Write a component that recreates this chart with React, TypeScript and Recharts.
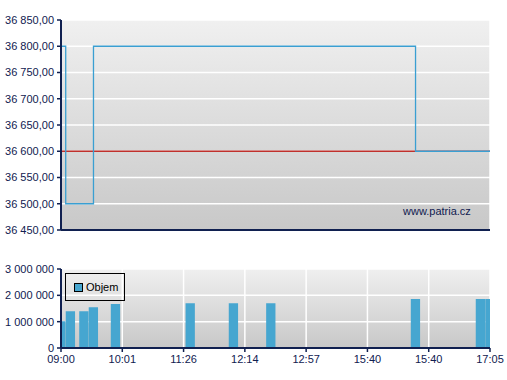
import React from 'react';
import {
  ComposedChart,
  Line,
  Bar,
  XAxis,
  YAxis,
  CartesianGrid,
  Legend,
} from 'recharts';

// x positions are slots on a 0..70 scale, one tick every 10
const tickPos = [0, 10, 20, 30, 40, 50, 60, 70];
const tickLabels = ['09:00', '10:01', '11:26', '12:14', '12:57', '15:40', '15:40', '17:05'];

const priceT = [0, 0.77, 5.3, 57.85, 70];
const priceV = [36800, 36500, 36800, 36600, 36600];

const refT = [0, 70];
const refV = [36600, 36600];

const volT = [0, 1.55, 3.75, 5.3, 8.9, 21.1, 28.15, 34.25, 57.85, 68.45, 70];
const volV = [1020000, 1400000, 1400000, 1550000, 1670000, 1700000, 1700000, 1700000, 1860000, 1860000, 1860000];

const priceTicks = [36450, 36500, 36550, 36600, 36650, 36700, 36750, 36800, 36850];
const volTicks = [0, 1000000, 2000000, 3000000];

const priceData = priceT.map((t, i) => ({ t, p: priceV[i] }));
const refData = refT.map((t, i) => ({ t, p: refV[i] }));
const volData = volT.map((t, i) => ({ t, v: volV[i] }));

const NAVY = '#102050';
const FONT = '"Liberation Sans", Arial, sans-serif';
const NBSP = '\u00a0';
const tickStyle = { fill: NAVY, fontSize: 11, fontFamily: FONT };

const fmtPrice = (n: number) =>
  `${Math.floor(n / 1000)}${NBSP}${String(n % 1000).padStart(3, '0')},00`;

const fmtVol = (n: number) => {
  if (n === 0) return '0';
  return String(n).replace(/\B(?=(\d{3})+(?!\d))/g, NBSP);
};

const fmtTime = (t: number) => {
  const i = tickPos.indexOf(t);
  return i >= 0 ? tickLabels[i] : '';
};

const LegendBox = () => (
  <div
    style={{
      width: 60,
      height: 28,
      border: '1px solid #000',
      boxSizing: 'border-box',
      display: 'flex',
      alignItems: 'center',
      paddingLeft: 8,
      fontFamily: FONT,
      fontSize: 11,
      color: '#000',
    }}
  >
    <span
      style={{
        display: 'inline-block',
        width: 7,
        height: 7,
        background: '#46a6d0',
        border: '1px solid #000',
        marginRight: 3,
      }}
    />
    Objem
  </div>
);

export default function App() {
  return (
    <div
      style={{
        position: 'absolute',
        left: 0,
        top: 0,
        width: 507,
        height: 380,
        background: '#fff',
      }}
    >
      <div style={{ position: 'absolute', left: 0, top: 0 }}>
        <ComposedChart
          width={507}
          height={240}
          data={priceData}
          margin={{ top: 20, right: 17, left: 0, bottom: 0 }}
        >
          <defs>
            <linearGradient id="gTop" x1="0" y1="0" x2="0" y2="1">
              <stop offset="0%" stopColor="#f0f0f0" />
              <stop offset="100%" stopColor="#c8c8c8" />
            </linearGradient>
          </defs>
          <CartesianGrid stroke="#ffffff" strokeWidth={1.5} fill="url(#gTop)" fillOpacity={1} />
          <XAxis
            dataKey="t"
            type="number"
            domain={[0, 70]}
            ticks={tickPos}
            tick={false}
            height={10}
            tickSize={4}
            axisLine={{ stroke: NAVY, strokeWidth: 2 }}
            tickLine={{ stroke: NAVY, strokeWidth: 1.5 }}
          />
          <YAxis
            type="number"
            domain={[36450, 36850]}
            ticks={priceTicks}
            width={61}
            tickSize={4}
            tickMargin={3}
            tickFormatter={fmtPrice}
            tick={tickStyle}
            axisLine={{ stroke: NAVY, strokeWidth: 2 }}
            tickLine={{ stroke: NAVY, strokeWidth: 1.5 }}
          />
          <Line
            data={refData}
            dataKey="p"
            type="linear"
            stroke="#c0302c"
            strokeWidth={1.3}
            dot={false}
            isAnimationActive={false}
          />
          <Line
            dataKey="p"
            type="stepAfter"
            stroke="#3a9fd2"
            strokeWidth={1.3}
            dot={false}
            isAnimationActive={false}
          />
        </ComposedChart>
      </div>

      <div
        style={{
          position: 'absolute',
          left: 403,
          top: 205,
          fontFamily: FONT,
          fontSize: 11,
          color: NAVY,
        }}
      >
        www.patria.cz
      </div>

      <div style={{ position: 'absolute', left: 0, top: 255 }}>
        <ComposedChart
          width={507}
          height={123}
          data={volData}
          barCategoryGap={0}
          barGap={0}
          margin={{ top: 14, right: 17, left: 0, bottom: 0 }}
        >
          <defs>
            <linearGradient id="gBot" x1="0" y1="0" x2="0" y2="1">
              <stop offset="0%" stopColor="#efefef" />
              <stop offset="100%" stopColor="#c8c8c8" />
            </linearGradient>
          </defs>
          <CartesianGrid stroke="#ffffff" strokeWidth={1.5} fill="url(#gBot)" fillOpacity={1} />
          <XAxis
            dataKey="t"
            type="number"
            domain={[0, 70]}
            ticks={tickPos}
            allowDataOverflow
            height={30}
            tickSize={4}
            tickMargin={3}
            tickFormatter={fmtTime}
            tick={tickStyle}
            axisLine={{ stroke: NAVY, strokeWidth: 2 }}
            tickLine={{ stroke: NAVY, strokeWidth: 1.5 }}
          />
          <YAxis
            type="number"
            domain={[0, 3000000]}
            ticks={volTicks}
            width={61}
            tickSize={4}
            tickMargin={3}
            tickFormatter={fmtVol}
            tick={tickStyle}
            axisLine={{ stroke: NAVY, strokeWidth: 2 }}
            tickLine={{ stroke: NAVY, strokeWidth: 1.5 }}
          />
          <Legend
            layout="horizontal"
            verticalAlign="middle"
            align="center"
            content={<LegendBox />}
            wrapperStyle={{ left: 65, top: 18, width: 'auto', height: 'auto' }}
          />
          <Bar
            dataKey="v"
            name="Objem"
            fill="#46a6d0"
            barSize={9.3}
            isAnimationActive={false}
          />
        </ComposedChart>
      </div>
    </div>
  );
}
